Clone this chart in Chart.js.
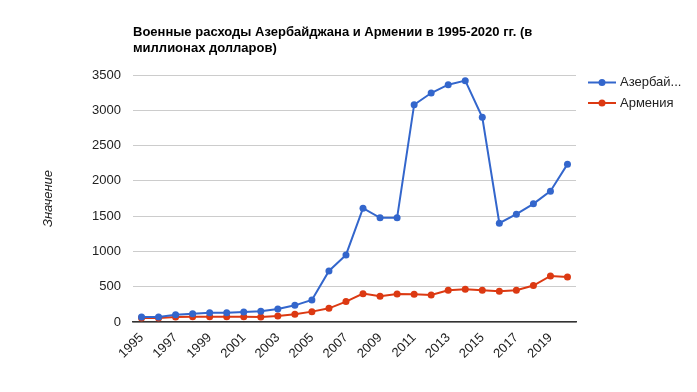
<!DOCTYPE html>
<html>
<head>
<meta charset="utf-8">
<script src="https://cdn.jsdelivr.net/npm/chart.js@4"></script>
<style>
  html, body { margin: 0; padding: 0; background: #fff; }
  #wrap { width: 697px; height: 392px; }
</style>
</head>
<body>
<div id="wrap"><canvas id="chart"></canvas></div>
<script>
// --- Dados ---
const anos = ['1995', '1996', '1997', '1998', '1999', '2000', '2001', '2002', '2003', '2004',
              '2005', '2006', '2007', '2008', '2009', '2010', '2011', '2012', '2013', '2014',
              '2015', '2016', '2017', '2018', '2019', '2020'];
const azerbaijao = [71, 71, 104, 118, 132, 132, 142, 151, 184, 236,
                    312, 724, 951, 1613, 1476, 1476, 3079, 3245, 3363, 3420,
                    2900, 1400, 1528, 1674, 1854, 2237];
const armenia = [57, 57, 71, 76, 76, 76, 76, 71, 85, 109,
                 147, 194, 289, 402, 364, 397, 393, 383, 449, 464,
                 449, 435, 449, 516, 653, 639];
const nomesSeries = ['Азербайджан', 'Армения'];
const legendaTextos = ['Азербай...', 'Армения'];
const coresSeries = ['#3366cc', '#dc3912'];
const tituloLinhas = ['Военные расходы Азербайджана и Армении в 1995-2020 гг. (в', 'миллионах долларов)'];
const eixoYTitulo = 'Значение';

const FONTE = "Arial, 'Liberation Sans', sans-serif";

// Legenda no estilo do Google Charts: linha com ponto no meio.
const legendaPlugin = {
    id: 'legendaLinha',
    afterDraw(chart) {
        const ctx = chart.ctx;
        const x0 = chart.chartArea.right + 12;
        ctx.save();
        chart.data.datasets.forEach((ds, i) => {
            const y = 82.5 + i * 20.5;
            ctx.strokeStyle = ds.borderColor;
            ctx.lineWidth = 2;
            ctx.beginPath();
            ctx.moveTo(x0, y);
            ctx.lineTo(x0 + 28, y);
            ctx.stroke();
            ctx.fillStyle = ds.borderColor;
            ctx.beginPath();
            ctx.arc(x0 + 14, y, 3.5, 0, Math.PI * 2);
            ctx.fill();
            ctx.fillStyle = '#222222';
            ctx.font = '13px ' + FONTE;
            ctx.textBaseline = 'middle';
            ctx.textAlign = 'left';
            ctx.fillText(legendaTextos[i], x0 + 32, y);
        });
        ctx.restore();
    }
};

new Chart(document.getElementById('chart'), {
    type: 'line',
    data: {
        labels: anos,
        datasets: [azerbaijao, armenia].map((valores, i) => ({
            label: nomesSeries[i],
            data: valores,
            borderColor: coresSeries[i],
            backgroundColor: coresSeries[i],
            borderWidth: 2,
            pointRadius: 3.5,
            pointHoverRadius: 4,
            pointBorderWidth: 0,
            tension: 0
        }))
    },
    options: {
        responsive: true,
        maintainAspectRatio: false,
        animation: false,
        layout: { padding: { left: 0, right: 121, top: 0, bottom: 0 } },
        plugins: {
            legend: { display: false },
            tooltip: { enabled: true },
            title: {
                display: true,
                text: tituloLinhas,
                align: 'start',
                fullSize: false,
                color: '#000000',
                font: { family: FONTE, size: 13, weight: 'bold', lineHeight: 16 / 13 },
                padding: { top: 24, bottom: 19 }
            }
        },
        scales: {
            x: {
                offset: true,
                grid: { display: false, drawTicks: false },
                border: { display: true, color: '#333333', width: 1.5 },
                ticks: {
                    autoSkip: false,
                    minRotation: 45,
                    maxRotation: 45,
                    padding: 8,
                    color: '#222222',
                    font: { family: FONTE, size: 13 },
                    callback: function (val, idx) {
                        return idx % 2 === 0 ? this.getLabelForValue(val) : '';
                    }
                },
                afterFit(scale) { scale.height = 70; }
            },
            y: {
                min: 0,
                max: 3500,
                grid: { color: '#cccccc', drawTicks: false },
                border: { display: false },
                ticks: {
                    stepSize: 500,
                    padding: 12,
                    color: '#222222',
                    font: { family: FONTE, size: 13 },
                    callback: (val) => String(val)
                },
                title: {
                    display: true,
                    text: eixoYTitulo,
                    color: '#222222',
                    font: { family: FONTE, size: 13, style: 'italic' },
                    padding: { top: 41, bottom: 0 }
                },
                afterFit(scale) { scale.width = 133; }
            }
        }
    },
    plugins: [legendaPlugin]
});
</script>
</body>
</html>
